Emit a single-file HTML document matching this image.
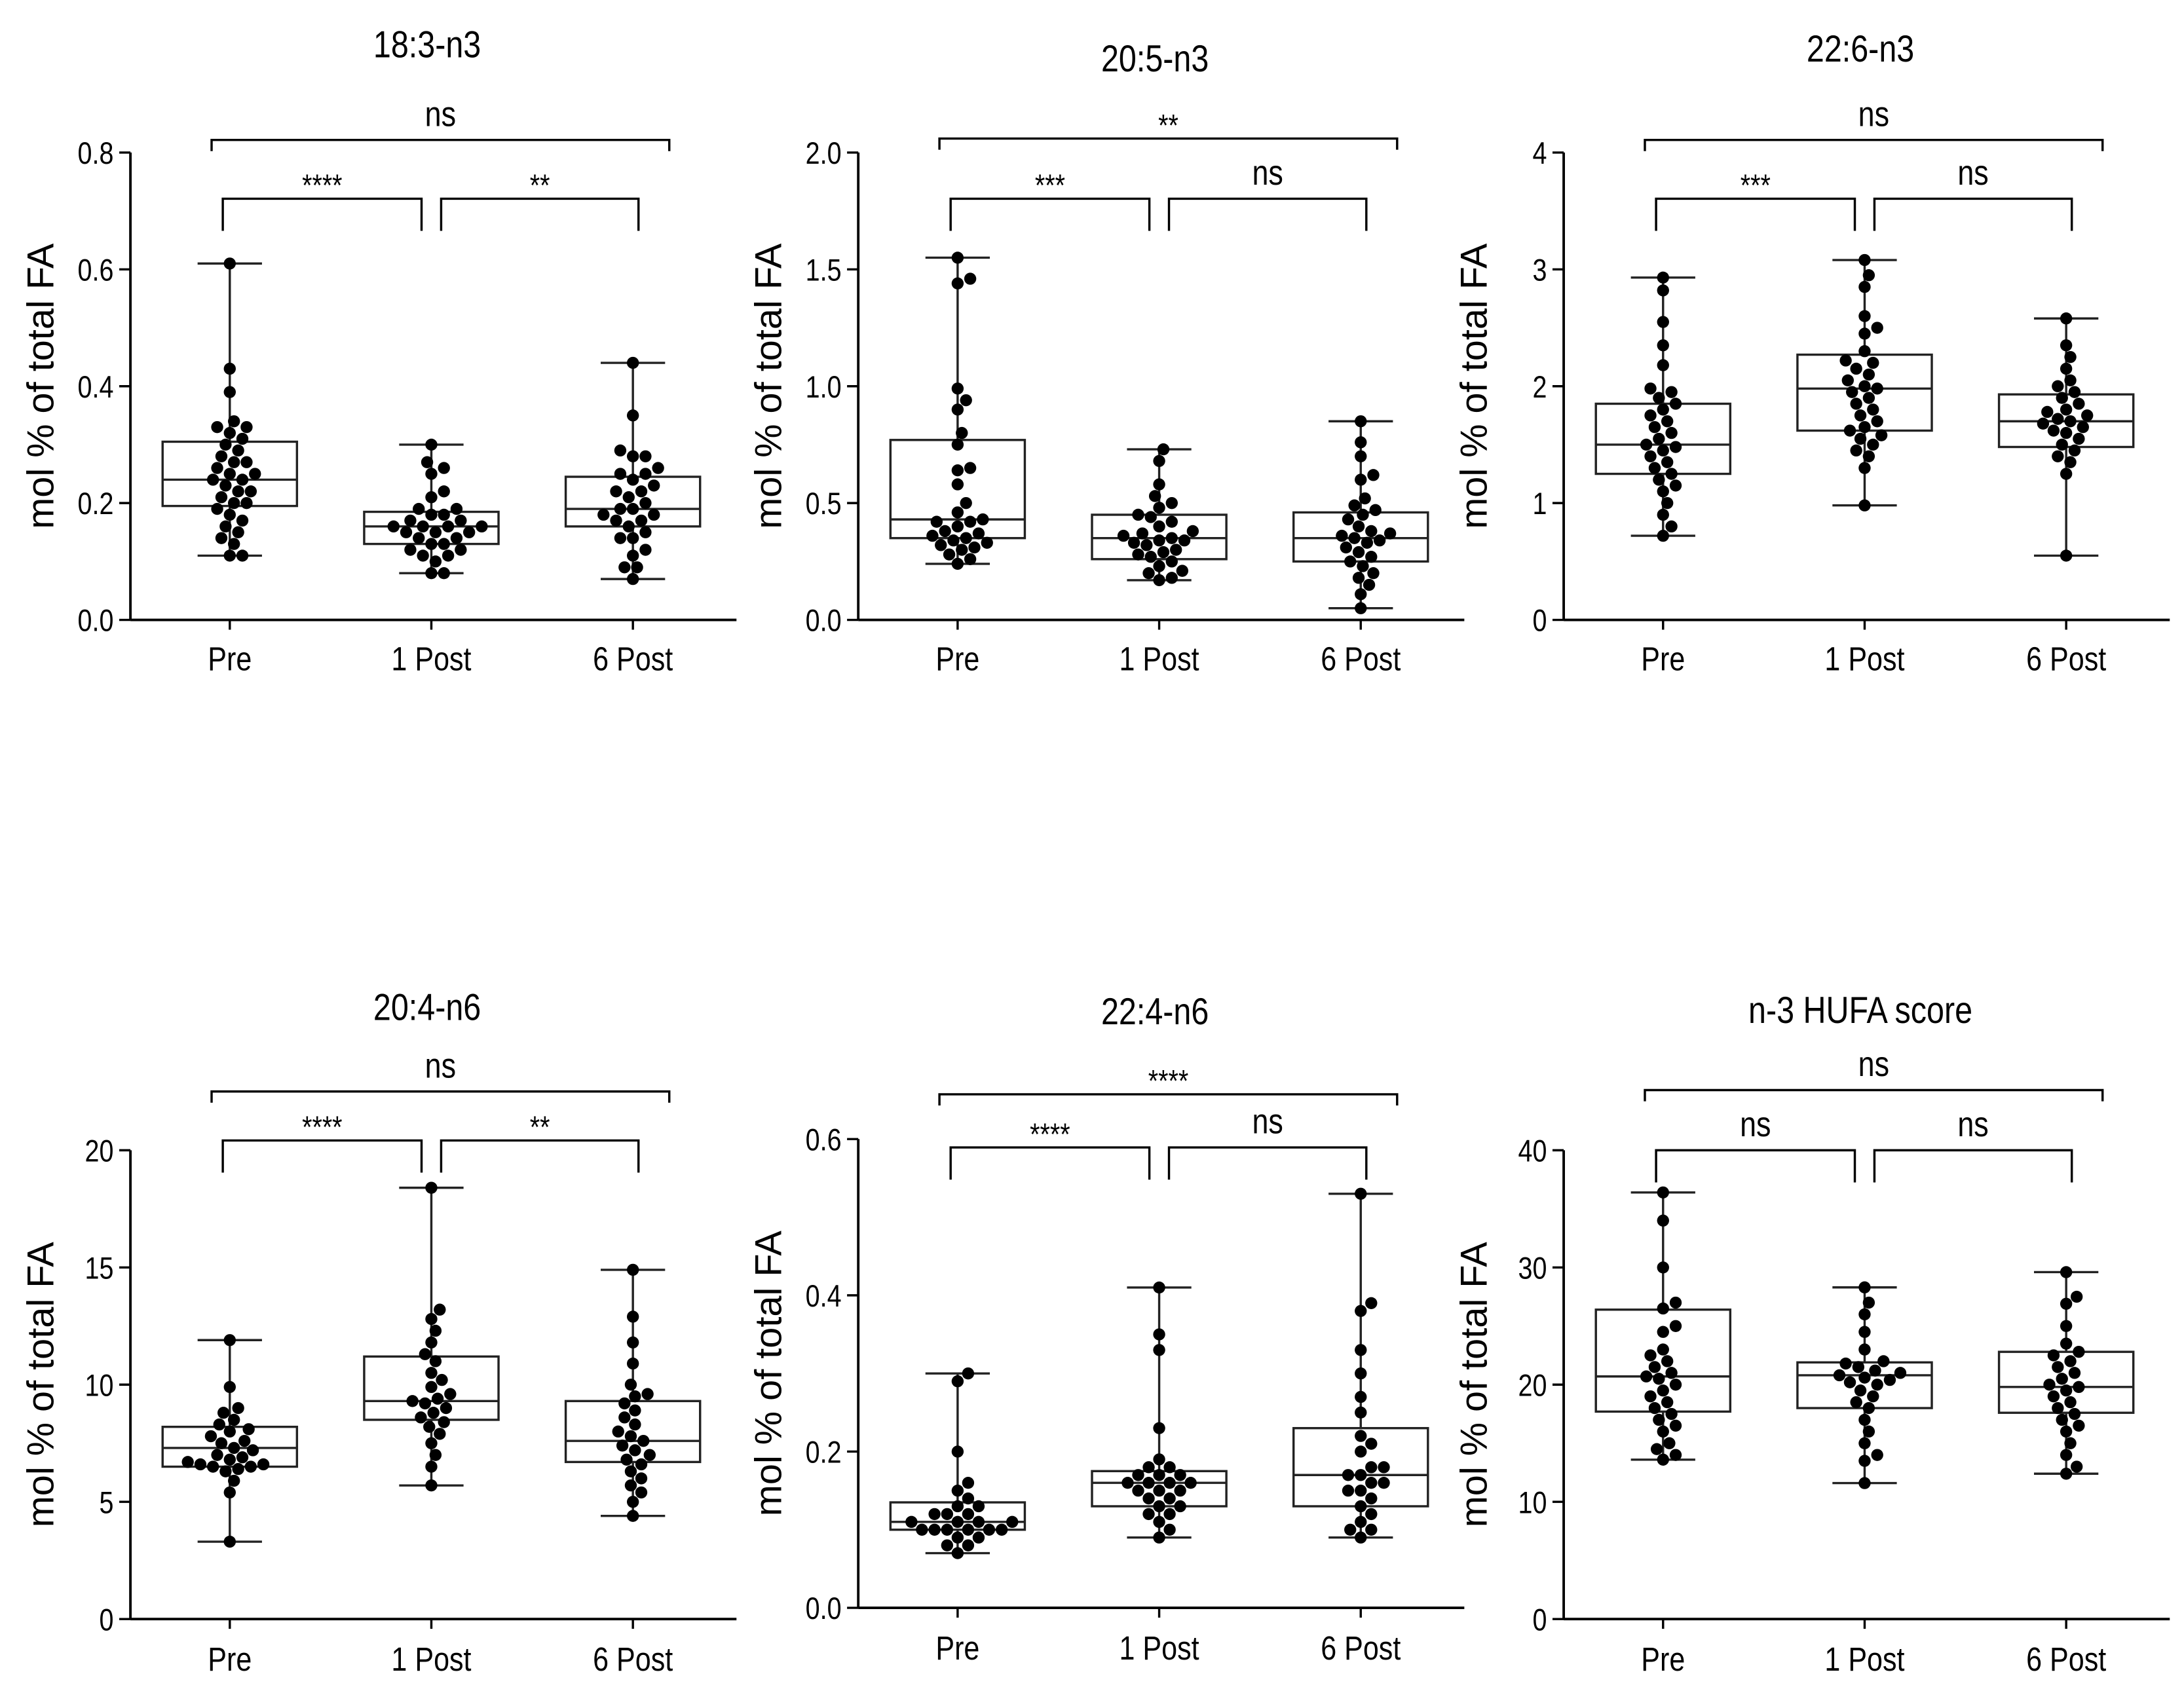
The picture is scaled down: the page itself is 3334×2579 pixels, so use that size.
<!DOCTYPE html>
<html><head><meta charset="utf-8"><style>
html,body{margin:0;padding:0;background:#fff;}
svg{display:block;}
text{font-family:"Liberation Sans",Arial,sans-serif;fill:#000;}
</style></head><body>
<svg id="fig" width="3334" height="2579" viewBox="0 0 1560 1207" xmlns="http://www.w3.org/2000/svg"></svg>
<script>
const categories = ["Pre","1 Post","6 Post"];
const titles = ["18:3-n3","20:5-n3","22:6-n3","20:4-n6","22:4-n6","n-3 HUFA score"];
const yMax = [0.8,2.0,4,20,0.6,40];
const yTicks = [[0,0.2,0.4,0.6,0.8],[0,0.5,1.0,1.5,2.0],[0,1,2,3,4],[0,5,10,15,20],[0,0.2,0.4,0.6],[0,10,20,30,40]];
const tickLabels = [["0.0","0.2","0.4","0.6","0.8"],["0.0","0.5","1.0","1.5","2.0"],["0","1","2","3","4"],["0","5","10","15","20"],["0.0","0.2","0.4","0.6"],["0","10","20","30","40"]];
// box stats: [min, q1, median, q3, max] per group
const boxStats = [
 [[.11,.195,.24,.305,.61],[.08,.13,.16,.185,.30],[.07,.16,.19,.245,.44]],
 [[.24,.35,.43,.77,1.55],[.17,.26,.35,.45,.73],[.05,.25,.35,.46,.85]],
 [[.72,1.25,1.5,1.85,2.93],[.98,1.62,1.98,2.27,3.08],[.55,1.48,1.70,1.93,2.58]],
 [[3.3,6.5,7.3,8.2,11.9],[5.7,8.5,9.3,11.2,18.4],[4.4,6.7,7.6,9.3,14.9]],
 [[.07,.10,.11,.135,.30],[.09,.13,.16,.175,.41],[.09,.13,.17,.23,.53]],
 [[13.6,17.7,20.7,26.4,36.4],[11.6,18,20.8,21.9,28.3],[12.4,17.6,19.8,22.8,29.6]]
];
const points = [
 [[.61,.43,.39,.34,.33,.33,.32,.31,.30,.29,.28,.27,.27,.26,.25,.25,.24,.24,.23,.22,.22,.21,.20,.20,.19,.18,.17,.16,.15,.14,.13,.11,.11],
  [.30,.27,.26,.25,.22,.21,.19,.19,.18,.18,.17,.17,.16,.16,.16,.16,.15,.15,.15,.14,.14,.13,.13,.12,.12,.11,.11,.10,.08,.08],
  [.44,.35,.29,.28,.28,.26,.25,.25,.24,.23,.22,.22,.21,.20,.19,.19,.18,.18,.17,.17,.16,.15,.14,.14,.12,.11,.09,.09,.07]],
 [[1.55,1.46,1.44,.99,.94,.90,.80,.75,.65,.64,.58,.50,.46,.43,.42,.42,.40,.38,.37,.36,.35,.34,.33,.32,.31,.30,.28,.26,.24],
  [.73,.68,.58,.53,.50,.48,.45,.44,.42,.40,.38,.37,.36,.35,.34,.34,.33,.32,.30,.29,.28,.27,.25,.23,.21,.20,.18,.17],
  [.85,.76,.70,.62,.60,.52,.49,.47,.45,.43,.40,.38,.37,.36,.35,.34,.33,.31,.29,.27,.25,.23,.20,.18,.15,.11,.05]],
 [[2.93,2.82,2.55,2.35,2.18,1.98,1.95,1.90,1.85,1.80,1.75,1.70,1.65,1.60,1.55,1.50,1.48,1.45,1.40,1.35,1.30,1.25,1.20,1.15,1.10,1.00,.90,.80,.72],
  [3.08,2.95,2.85,2.60,2.50,2.45,2.30,2.22,2.20,2.15,2.10,2.05,2.00,1.98,1.95,1.90,1.85,1.80,1.75,1.70,1.65,1.62,1.58,1.55,1.50,1.45,1.40,1.30,.98],
  [2.58,2.35,2.25,2.15,2.05,2.00,1.95,1.90,1.85,1.80,1.78,1.75,1.72,1.70,1.68,1.65,1.62,1.60,1.55,1.50,1.45,1.40,1.35,1.25,.55]],
 [[11.9,9.9,9.0,8.8,8.5,8.3,8.1,8.0,7.8,7.6,7.5,7.3,7.2,7.0,6.9,6.8,6.7,6.6,6.6,6.5,6.5,6.4,6.3,5.9,5.4,3.3],
  [18.4,13.2,12.8,12.3,11.8,11.3,11.0,10.5,10.2,9.9,9.6,9.4,9.3,9.2,9.0,8.8,8.6,8.4,8.2,7.9,7.5,7.0,6.5,5.7],
  [14.9,12.9,11.8,10.9,10.0,9.6,9.5,9.2,8.9,8.6,8.3,8.0,7.8,7.6,7.4,7.2,7.0,6.8,6.6,6.3,6.0,5.7,5.4,5.0,4.4]],
 [[.30,.29,.20,.16,.15,.14,.13,.13,.12,.12,.12,.11,.11,.11,.11,.10,.10,.10,.10,.10,.10,.09,.09,.08,.08,.07],
  [.41,.35,.33,.23,.19,.18,.18,.17,.17,.17,.16,.16,.16,.16,.15,.15,.15,.14,.14,.13,.13,.12,.12,.11,.10,.09],
  [.53,.39,.38,.33,.30,.27,.25,.22,.21,.20,.18,.18,.17,.17,.16,.16,.15,.15,.14,.13,.12,.11,.10,.10,.09]],
 [[36.4,34,30,27,26.5,25,24.5,23,22.5,22,21.5,21,20.7,20.5,20,19.5,19,18.5,18,17.5,17,16.5,16,15,14.5,14,13.6],
  [28.3,27,26,24.5,23,22,21.8,21.5,21.2,21,20.8,20.6,20.4,20.2,20,19.5,19,18.5,18,17,16,15,14,13.5,11.6],
  [29.6,27.5,26.9,25,23.5,22.8,22.5,22,21.5,21,20.5,20,19.8,19.5,19,18.5,18,17.5,17,16.5,16,15,14,13,12.4]]
];
// significance labels: [Pre-1Post, 1Post-6Post, Pre-6Post]
const sigLabels = [["****","**","ns"],["***","ns","**"],["***","ns","ns"],["****","**","ns"],["****","ns","****"],["ns","ns","ns"]];

const panels = [
 {ax:93, top:109, bot:443, title:32, topBr:100, lowBr:142, catY:470},
 {ax:613,top:109, bot:443, title:42, topBr:99, lowBr:142, catY:470},
 {ax:1117,top:109,bot:443, title:35, topBr:100, lowBr:142, catY:470},
 {ax:93, top:822, bot:1157,title:720,topBr:780, lowBr:815, catY:1185},
 {ax:613,top:814, bot:1149,title:723,topBr:782, lowBr:820, catY:1177},
 {ax:1117,top:822,bot:1157,title:722,topBr:779, lowBr:822, catY:1185}
];
const NS="http://www.w3.org/2000/svg";
const svg=document.getElementById('fig');
function el(tag,attrs,parent,txt){const e=document.createElementNS(NS,tag);for(const k in attrs)e.setAttribute(k,attrs[k]);if(txt!==undefined)e.textContent=txt;(parent||svg).appendChild(e);return e;}
function txt(x,y,size,anchor,s,parent,rot){
  const tr=`translate(${x},${y})`+(rot?' rotate(-90)':'')+' scale(0.84,1)';
  return el('text',{x:0,y:0,'font-size':size,'text-anchor':anchor,transform:tr},parent,s);
}
const R=4.3;
panels.forEach((p,pi)=>{
  const g=el('g',{});
  
  
  const y=v=>p.bot-(v/yMax[pi])*(p.bot-p.top);
  const cx=[p.ax+71,p.ax+215,p.ax+359];
  const st={stroke:'#222','stroke-width':1.6,fill:'none'};
  const t=txt(p.ax+212,p.title+9,27,'middle',titles[pi],g);
  
  
  const yl=el('text',{x:0,y:0,'font-size':27,'text-anchor':'middle',transform:`translate(${p.ax-55},${(p.top+p.bot)/2}) rotate(-90)`},g,'mol % of total FA');
  
  
  const ya=el('line',Object.assign({x1:p.ax,y1:p.top,x2:p.ax,y2:p.bot},st,{stroke:'#000','stroke-width':1.8}),g);
  
  
  const xa=el('line',Object.assign({x1:p.ax,y1:p.bot,x2:p.ax+433,y2:p.bot},st,{stroke:'#000','stroke-width':1.8}),g);
  
  
  yTicks[pi].forEach((v,i)=>{
    el('line',Object.assign({x1:p.ax-8,y1:y(v),x2:p.ax,y2:y(v)},st,{stroke:'#000'}),g);
    const tl=txt(p.ax-12,y(v)+8,22,'end',tickLabels[pi][i],g);
    
    
  });
  categories.forEach((c,ci)=>{
    el('line',Object.assign({x1:cx[ci],y1:p.bot,x2:cx[ci],y2:p.bot+7},st,{stroke:'#000'}),g);
    const cl=txt(cx[ci],p.catY+9,24,'middle',c,g);
    
    
    const b=boxStats[pi][ci];
    const bg=el('g',{},g);
    
    
    el('line',Object.assign({x1:cx[ci],y1:y(b[0]),x2:cx[ci],y2:y(b[1])},st),bg);
    el('line',Object.assign({x1:cx[ci],y1:y(b[3]),x2:cx[ci],y2:y(b[4])},st),bg);
    el('line',Object.assign({x1:cx[ci]-23,y1:y(b[0]),x2:cx[ci]+23,y2:y(b[0])},st),bg);
    el('line',Object.assign({x1:cx[ci]-23,y1:y(b[4]),x2:cx[ci]+23,y2:y(b[4])},st),bg);
    el('rect',Object.assign({x:cx[ci]-48,y:y(b[3]),width:96,height:y(b[1])-y(b[3])},st),bg);
    el('line',Object.assign({x1:cx[ci]-48,y1:y(b[2]),x2:cx[ci]+48,y2:y(b[2])},st),bg);
    const pts=points[pi][ci].slice().sort((a,b)=>a-b);
    const placed=[];
    pts.forEach(v=>{
      const py=y(v);let off=0;
      for(let k=0;k<200;k++){
        const cand=(k%2?1:-1)*Math.ceil(k/2)*1.5;
        if(placed.every(q=>Math.hypot(q[0]-cand,q[1]-py)>=2*R)){off=cand;break;}
      }
      placed.push([off,py]);
      const d=el('circle',{cx:cx[ci]+off,cy:py,r:R,fill:'#000'},g);
      
      
    });
  });
  const br=[[cx[0]-5,cx[1]-7,p.lowBr],[cx[1]+7,cx[2]+4,p.lowBr],[cx[0]-13,cx[2]+26,p.topBr]];
  br.forEach((b,bi)=>{
    const h=bi==2?8:23;
    const bk=el('path',{d:`M${b[0]},${b[2]+h}V${b[2]}H${b[1]}V${b[2]+h}`,stroke:'#000','stroke-width':1.6,fill:'none'},g);
    
    
    const lab=sigLabels[pi][bi];
    const isNs=lab==='ns';
    const lt=txt((b[0]+b[1])/2,isNs?b[2]-10:b[2]-2,isNs?25:22,'middle',lab,g);
    
    
  });
});
</script>
</body></html>
